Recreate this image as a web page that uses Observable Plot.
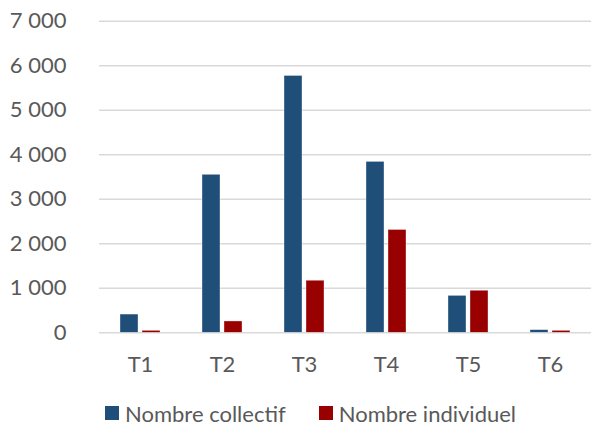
<!DOCTYPE html>
<html>
<head>
<meta charset="utf-8">
<script src="https://cdn.jsdelivr.net/npm/d3@7"></script>
<script src="https://cdn.jsdelivr.net/npm/@observablehq/plot@0.6"></script>
<style>
  html, body { margin: 0; padding: 0; background: #fff; }
  body { width: 596px; height: 428px; overflow: hidden; font-family: Lato, "Open Sans", sans-serif; }
  #legend { display: flex; align-items: center; margin-left: 105px; margin-top: 21px; height: 24px; font-size: 22px; color: #595959; }
  .item { display: flex; align-items: center; margin-right: 33px; }
  .sw { width: 14px; height: 14px; margin-right: 6px; }
</style>
</head>
<body>
<div id="chart"></div>
<div id="legend"></div>
<script>
const categories = ["T1", "T2", "T3", "T4", "T5", "T6"];
const series = ["Nombre collectif", "Nombre individuel"];
const collectif = [410, 3550, 5770, 3840, 830, 60];
const individuel = [45, 255, 1170, 2310, 945, 45];
const yTicks = [0, 1000, 2000, 3000, 4000, 5000, 6000, 7000];
const colors = ["#1f4e79", "#990000"];

const data = [];
categories.forEach((c, i) => {
  data.push({cat: c, serie: series[0], value: collectif[i]});
  data.push({cat: c, serie: series[1], value: individuel[i]});
});

const fmt = d3.formatLocale({decimal: ",", thousands: " ", grouping: [3], currency: ["", " €"]}).format(",d");

const chart = Plot.plot({
  width: 596,
  height: 380,
  marginLeft: 96,
  marginRight: 3,
  marginTop: 20.7,
  marginBottom: 47.7,
  style: {fontFamily: "Lato, 'Open Sans', sans-serif", fontSize: "22px", color: "#595959", background: "#fff"},
  fx: {domain: categories, padding: 0, label: null},
  x: {domain: series, paddingInner: 0.17, paddingOuter: 0.885, axis: null},
  y: {domain: [0, 7000], ticks: yTicks, label: null},
  color: {domain: series, range: colors},
  marks: [
    Plot.gridY(yTicks, {stroke: "#d9d9d9", strokeOpacity: 1, strokeWidth: 1.4}),
    Plot.axisY(yTicks, {tickSize: 0, tickPadding: 33, tickFormat: fmt, fill: "#595959", fontSize: 22, label: null}),
    Plot.axisFx({anchor: "bottom", tickSize: 0, tickPadding: 24, fill: "#595959", fontSize: 22, label: null}),
    Plot.barY(data, {fx: "cat", x: "serie", y: "value", fill: "serie", stroke: "#ffffff", strokeWidth: 0.6, strokeOpacity: 0.6}),
  ]
});
document.getElementById("chart").appendChild(chart);

const legend = document.getElementById("legend");
series.forEach((s, i) => {
  const it = document.createElement("div");
  it.className = "item";
  const sw = document.createElement("div");
  sw.className = "sw";
  sw.style.background = colors[i];
  const t = document.createElement("span");
  t.textContent = s;
  it.appendChild(sw);
  it.appendChild(t);
  legend.appendChild(it);
});
</script>
</body>
</html>
